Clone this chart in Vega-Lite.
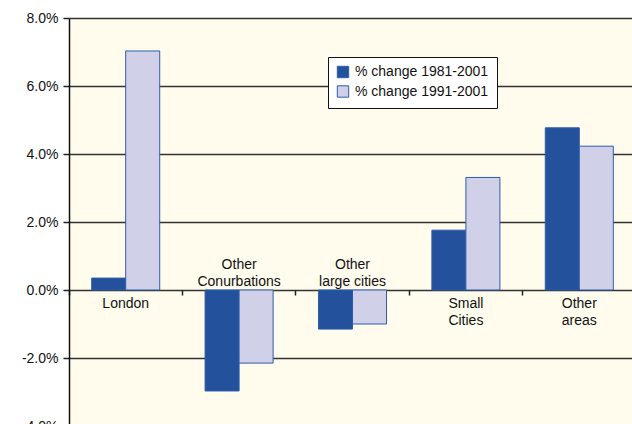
{
  "$schema": "https://vega.github.io/schema/vega-lite/v6.json",
  "autosize": {"type": "none"},
  "width": 563,
  "height": 406,
  "padding": {"left": 69, "top": 18, "right": 0, "bottom": 0},
  "background": "#ffffff",
  "config": {
    "view": {"stroke": null, "fill": "#FFFCEE"},
    "font": "Liberation Sans"
  },
  "datasets": {
    "bars": [
      {"area": "London", "series": "% change 1981-2001", "value": 0.35},
      {"area": "London", "series": "% change 1991-2001", "value": 7.03},
      {"area": "Other Conurbations", "series": "% change 1981-2001", "value": -2.97},
      {"area": "Other Conurbations", "series": "% change 1991-2001", "value": -2.15},
      {"area": "Other large cities", "series": "% change 1981-2001", "value": -1.15},
      {"area": "Other large cities", "series": "% change 1991-2001", "value": -1.0},
      {"area": "Small Cities", "series": "% change 1981-2001", "value": 1.76},
      {"area": "Small Cities", "series": "% change 1991-2001", "value": 3.31},
      {"area": "Other areas", "series": "% change 1981-2001", "value": 4.77},
      {"area": "Other areas", "series": "% change 1991-2001", "value": 4.23}
    ],
    "labels": [
      {"area": "London", "label": "London", "side": "below"},
      {"area": "Other Conurbations", "label": "Other\nConurbations", "side": "above"},
      {"area": "Other large cities", "label": "Other\nlarge cities", "side": "above"},
      {"area": "Small Cities", "label": "Small\nCities", "side": "below"},
      {"area": "Other areas", "label": "Other\nareas", "side": "below"}
    ]
  },
  "encoding": {
    "x": {
      "field": "area",
      "type": "nominal",
      "sort": null,
      "scale": {
        "domain": ["London", "Other Conurbations", "Other large cities", "Small Cities", "Other areas"],
        "range": [0, 567],
        "paddingInner": 0.4,
        "paddingOuter": 0.2
      },
      "axis": {
        "title": null,
        "labels": false,
        "domain": false,
        "grid": false,
        "ticks": true,
        "tickSize": 5,
        "tickWidth": 1.5,
        "tickColor": "#222222",
        "bandPosition": -0.3333,
        "offset": -134
      }
    }
  },
  "layer": [
    {
      "data": {"name": "bars"},
      "mark": {"type": "bar", "stroke": "#2E5CA8", "strokeWidth": 1},
      "encoding": {
        "xOffset": {
          "field": "series",
          "type": "nominal",
          "scale": {"domain": ["% change 1981-2001", "% change 1991-2001"], "paddingInner": 0, "paddingOuter": 0}
        },
        "y": {
          "field": "value",
          "type": "quantitative",
          "scale": {"domain": [-4, 8], "range": [408, 0], "nice": false, "zero": false},
          "axis": {
            "title": null,
            "values": [-4, -2, 0, 2, 4, 6, 8],
            "labelExpr": "(datum.value < 0 ? '-' : '') + format(abs(datum.value), '.1f') + '%'",
            "labelFontSize": 14,
            "labelColor": "#111111",
            "labelPadding": 5,
            "tickSize": 6,
            "tickWidth": 1.5,
            "tickColor": "#222222",
            "domainColor": "#111111",
            "domainWidth": 1.5,
            "grid": true,
            "gridColor": "#333333",
            "gridWidth": 1.5,
            "gridOpacity": 1
          }
        },
        "color": {
          "field": "series",
          "type": "nominal",
          "scale": {"domain": ["% change 1981-2001", "% change 1991-2001"], "range": ["#23519B", "#D0D1E8"]},
          "legend": {
            "title": null,
            "orient": "none",
            "legendX": 259,
            "legendY": 39,
            "fillColor": "#ffffff",
            "strokeColor": "#111111",
            "padding": 8,
            "symbolType": "square",
            "symbolSize": 130,
            "symbolStrokeColor": "#2E5CA8",
            "symbolStrokeWidth": 1,
            "symbolOpacity": 1,
            "labelFontSize": 14,
            "labelColor": "#111111",
            "labelOffset": 5,
            "rowPadding": 3.5
          }
        }
      }
    },
    {
      "data": {"name": "labels"},
      "transform": [{"filter": "datum.side == 'below'"}],
      "mark": {"type": "text", "baseline": "top", "align": "center", "dy": 7, "fontSize": 14, "lineHeight": 17, "lineBreak": "\n", "color": "#111111"},
      "encoding": {
        "y": {"datum": 0, "type": "quantitative"},
        "text": {"field": "label"}
      }
    },
    {
      "data": {"name": "labels"},
      "transform": [{"filter": "datum.side == 'above'"}],
      "mark": {"type": "text", "baseline": "top", "align": "center", "dy": -32, "fontSize": 14, "lineHeight": 17, "lineBreak": "\n", "color": "#111111"},
      "encoding": {
        "y": {"datum": 0, "type": "quantitative"},
        "text": {"field": "label"}
      }
    }
  ]
}
